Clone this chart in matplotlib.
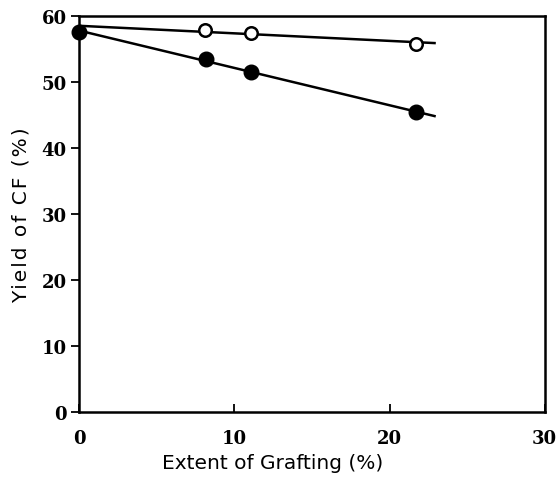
import matplotlib
matplotlib.use("Agg")
import matplotlib.pyplot as plt
import numpy as np

# open circles
open_x = [0, 8.1, 11.1, 21.7]
open_y = [58.2, 57.9, 57.4, 55.8]
# filled circles
filled_x = [0, 8.2, 11.1, 21.7]
filled_y = [57.6, 53.4, 51.5, 45.4]

fig = plt.figure(figsize=(5.57, 4.81), dpi=100)
ax = fig.add_axes([0.142, 0.141, 0.836, 0.824])

xl = np.array([0, 22.9])
p = np.polyfit(open_x, open_y, 1)
ax.plot(xl, np.polyval(p, xl), color="black", lw=1.8, zorder=2)
p = np.polyfit(filled_x, filled_y, 1)
ax.plot(xl, np.polyval(p, xl), color="black", lw=1.8, zorder=2)

ax.plot(open_x[1:], open_y[1:], "o", ms=9, mfc="white", mec="black", mew=1.8,
        zorder=3, clip_on=False)
ax.plot(filled_x, filled_y, "o", ms=10.5, color="black", zorder=4, clip_on=False)

ax.set_xlim(0, 30)
ax.set_ylim(0, 60)
ax.set_xticks([0, 10, 20, 30])
ax.set_yticks([0, 10, 20, 30, 40, 50, 60])
ax.tick_params(axis="x", direction="in", length=6, width=1.3, pad=12)
ax.tick_params(axis="y", direction="out", length=6, width=1.3, pad=3)
for lab in ax.get_xticklabels() + ax.get_yticklabels():
    lab.set_fontfamily("DejaVu Serif")
    lab.set_fontweight("bold")
    lab.set_fontsize(13)
for s in ax.spines.values():
    s.set_linewidth(1.8)

ax.set_xlabel("Extent of Grafting (%)", fontsize=14.5)
ax.xaxis.set_label_coords(0.416, -0.104)
ax.set_ylabel("\u200a".join("Yield of CF (%)"), fontsize=14.5)
ax.yaxis.set_label_coords(-0.105, 0.5)

fig.savefig("out.png", dpi=100)
